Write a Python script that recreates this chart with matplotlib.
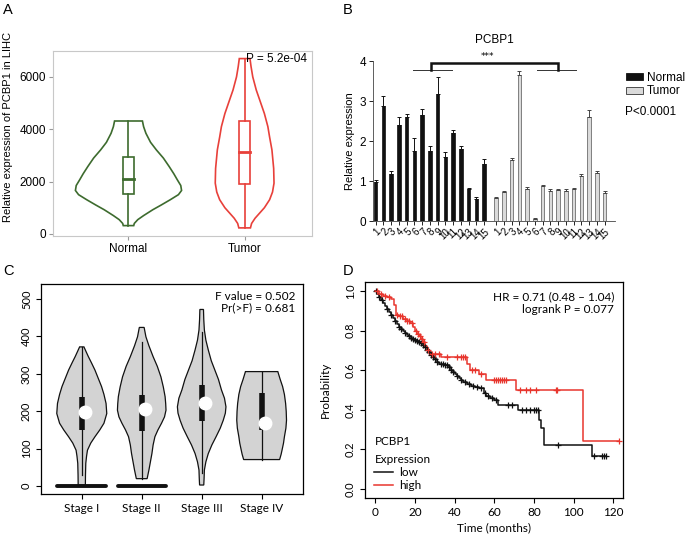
import numpy as np
import matplotlib
matplotlib.use("Agg")
import matplotlib.pyplot as plt
from matplotlib.patches import Patch
from matplotlib.lines import Line2D

# ---------------- data ----------------
# Panel A: violin profiles (value, half-width) and box stats
a_groups = ["Normal", "Tumor"]
a_norm_y = [317, 400, 545, 700, 926, 1100, 1307, 1500, 1660, 1850, 2070, 2300,
            2576, 2900, 3210, 3500, 3845, 4100, 4315]
a_norm_w = [0.045, 0.05, 0.08, 0.13, 0.21, 0.28, 0.36, 0.43, 0.457, 0.45, 0.42,
            0.39, 0.35, 0.30, 0.24, 0.19, 0.15, 0.13, 0.12]
a_tum_y = [230, 400, 600, 800, 1000, 1307, 1600, 1940, 2500, 3210, 3700, 4100,
           4600, 5115, 5500, 6000, 6400, 6700]
a_tum_w = [0.05, 0.06, 0.09, 0.13, 0.17, 0.215, 0.24, 0.253, 0.25, 0.235, 0.215,
           0.20, 0.17, 0.13, 0.10, 0.07, 0.055, 0.046]
a_box = {  # min, q1, median, q3, max
    "Normal": [317, 1523, 2107, 2957, 4315],
    "Tumor": [230, 1916, 3122, 4315, 6700],
}
a_pvalue = "P = 5.2e-04"

# Panel B: bar values
b_labels = [str(i) for i in range(1, 16)]
b_normal = [0.97, 2.87, 1.18, 2.40, 2.60, 1.75, 2.65, 1.75, 3.18, 1.60, 2.20, 1.80, 0.80, 0.55, 1.42]
b_normal_err = [0.05, 0.25, 0.06, 0.20, 0.08, 0.32, 0.14, 0.12, 0.42, 0.12, 0.08, 0.07, 0.03, 0.06, 0.14]
b_tumor = [0.57, 0.72, 1.52, 3.65, 0.80, 0.05, 0.88, 0.76, 0.77, 0.76, 0.80, 1.12, 2.60, 1.20, 0.70]
b_tumor_err = [0.04, 0.03, 0.06, 0.10, 0.04, 0.03, 0.03, 0.05, 0.04, 0.04, 0.03, 0.05, 0.17, 0.05, 0.04]

# Panel C: violin profiles per stage
c_stages = ["Stage I", "Stage II", "Stage III", "Stage IV"]
c_prof_y = [
    [3, 30, 61, 80, 96, 115, 132, 150, 168, 194, 221, 245, 266, 290, 310, 330,
     346, 360, 372],
    [20, 43, 65, 87, 110, 132, 150, 168, 185, 203, 220, 239, 265, 292, 320, 346,
     375, 399, 424],
    [3, 20, 43, 65, 87, 110, 132, 155, 176, 195, 212, 235, 257, 285, 310, 335,
     364, 390, 417, 445, 472],
    [71, 85, 96, 115, 132, 155, 176, 200, 221, 245, 266, 285, 306],
]
c_prof_w = [
    [0.06, 0.062, 0.067, 0.08, 0.095, 0.15, 0.22, 0.30, 0.37, 0.417, 0.405, 0.37,
     0.33, 0.27, 0.22, 0.16, 0.11, 0.07, 0.036],
    [0.09, 0.12, 0.145, 0.17, 0.19, 0.22, 0.27, 0.33, 0.38, 0.405, 0.40, 0.39,
     0.36, 0.32, 0.26, 0.19, 0.12, 0.07, 0.04],
    [0.035, 0.04, 0.045, 0.07, 0.11, 0.17, 0.24, 0.31, 0.36, 0.395, 0.405, 0.38,
     0.33, 0.28, 0.22, 0.16, 0.11, 0.07, 0.045, 0.035, 0.03],
    [0.30, 0.325, 0.34, 0.365, 0.38, 0.405, 0.415, 0.41, 0.40, 0.38, 0.35, 0.31,
     0.27],
]
c_whisk = [[29, 371], [18, 386], [34, 413], [71, 306]]
c_box = [[151, 239], [147, 243], [175, 270], [151, 250]]
c_center = [199, 205, 223, 168]
c_zero_bar = [0.41, 0.40, 0, 0]   # half-width of the zero-value bar
c_text = ["F value = 0.502", "Pr(>F) = 0.681"]

# Panel D: Kaplan-Meier steps
low_t = [0, 1, 2, 3, 4, 5, 6, 7, 8, 9, 10, 11, 12, 13, 14, 15, 16, 17, 18, 19, 20,
         21, 22, 23, 24, 25, 26, 27, 28, 29, 30, 31, 32, 35, 37, 38, 39, 40, 41, 42,
         43, 44, 46, 48, 50, 52, 55, 56, 58, 60, 62, 72, 82.5, 83.5, 85, 109, 116]
low_s = [1.0, 0.985, 0.97, 0.955, 0.94, 0.925, 0.91, 0.895, 0.88, 0.865, 0.85,
         0.835, 0.82, 0.81, 0.80, 0.79, 0.78, 0.77, 0.76, 0.755, 0.75,
         0.745, 0.74, 0.735, 0.725, 0.715, 0.70, 0.69, 0.675, 0.665, 0.655,
         0.64, 0.63, 0.625, 0.615, 0.60, 0.59, 0.58, 0.57, 0.56, 0.55, 0.54,
         0.53, 0.52, 0.515, 0.51, 0.485, 0.47, 0.46, 0.45, 0.425, 0.40,
         0.35, 0.31, 0.22, 0.165, 0.165]
high_t = [0, 2, 4, 6, 8, 9.5, 10.5, 12, 14, 16, 17.5, 19, 20, 21, 22, 23, 24, 25,
          26, 27, 28, 33, 46, 47.5, 52, 56, 71, 104.5, 123]
high_s = [1.0, 0.985, 0.975, 0.97, 0.96, 0.93, 0.88, 0.875, 0.86, 0.85, 0.84,
          0.82, 0.80, 0.785, 0.77, 0.755, 0.74, 0.72, 0.70, 0.69, 0.68, 0.665,
          0.63, 0.60, 0.58, 0.55, 0.50, 0.245, 0.245]
low_cens = [0.5, 2, 3.5, 6, 8, 10, 12, 13, 15, 17, 18, 19, 20, 21, 22, 23, 24, 25,
            26, 27, 28, 29, 30, 31, 33, 34, 35, 36, 37, 38, 39, 41, 43, 45, 47, 49,
            51, 53, 55.5, 57, 59, 61, 67, 69, 74, 76, 78, 80, 81, 82, 92, 110, 114,
            115, 116]
high_cens = [1, 3, 5, 7, 11, 12.5, 13.5, 15, 16, 17, 18.5, 20.5, 21.5, 22.5, 23.5,
             24.5, 26.5, 28.5, 30, 32, 36, 41, 43, 44, 45, 48.5, 50, 53, 60, 61, 62,
             63, 64, 65, 66, 73, 76, 78, 81, 91, 91.5, 123]
d_text = ["HR = 0.71 (0.48 \u2013 1.04)", "logrank P = 0.077"]

# ---------------- figure ----------------
W, H = 685, 536
fig = plt.figure(figsize=(W / 100, H / 100), dpi=100)
ARIAL = ["Liberation Sans", "DejaVu Sans"]
MYR = ["Lato", "DejaVu Sans"]


def axpos(x0, y0, x1, y1):
    return [x0 / W, 1 - y1 / H, (x1 - x0) / W, (y1 - y0) / H]


# panel letters
for lab, (x, y) in zip("ABCD", [(3, 14), (343, 14), (3, 275), (343, 275)]):
    fig.text(x / W, 1 - y / H, lab, fontsize=10.5, family=ARIAL, va="baseline")

# ---------- A ----------
axA = fig.add_axes(axpos(53, 51, 312, 236))
green = "#3d6b2e"
red = "#e8403a"
for i, (g, ys, ws, col) in enumerate(zip(a_groups, [a_norm_y, a_tum_y],
                                         [a_norm_w, a_tum_w], [green, red])):
    pos = i + 1
    ys = np.array(ys)
    ws = np.array(ws)
    xs = np.concatenate([pos - ws, (pos + ws)[::-1]])
    yy = np.concatenate([ys, ys[::-1]])
    axA.fill(xs, yy, facecolor="none", edgecolor=col, lw=1.2)
    mn, q1, md, q3, mx = a_box[g]
    bw = 0.05
    axA.plot([pos, pos], [mn, q1], color=col, lw=1.2)
    axA.plot([pos, pos], [q3, mx], color=col, lw=1.2)
    axA.fill([pos - bw, pos + bw, pos + bw, pos - bw], [q1, q1, q3, q3],
             facecolor="white", edgecolor=col, lw=1.2)
    axA.plot([pos - bw, pos + bw], [md, md], color=col, lw=2)
axA.set_xlim(0.35, 2.58)
axA.set_ylim(-80, 6990)
axA.set_xticks([1, 2])
axA.set_xticklabels(a_groups, family=ARIAL, fontsize=8.5)
axA.set_yticks([0, 2000, 4000, 6000])
axA.set_yticklabels(["0", "2000", "4000", "6000"], family=ARIAL, fontsize=8.5)
for s in axA.spines.values():
    s.set_color("#c8c8c8")
axA.tick_params(color="#999999", length=3, pad=2)
axA.text(2.535, 6690, a_pvalue, ha="right", va="center", fontsize=8.5, family=ARIAL)
fig.text(8 / W, 1 - 127 / H, "Relative expression of PCBP1 in LIHC", rotation=90,
         ha="center", va="center", fontsize=8, family=ARIAL)

# ---------- B ----------
axB = fig.add_axes(axpos(373, 61, 615, 221))
xn = np.arange(15)
xt = np.arange(15) + 15.55
bw = 0.45
axB.bar(xn, b_normal, width=bw, color="#111111", edgecolor="#111111", lw=0.5)
axB.errorbar(xn, b_normal, yerr=[np.zeros(15), b_normal_err], fmt="none",
             ecolor="#111111", elinewidth=0.7, capsize=1.2, capthick=0.7)
axB.bar(xt, b_tumor, width=bw, color="#dadada", edgecolor="#555555", lw=0.5)
axB.errorbar(xt, b_tumor, yerr=[np.zeros(15), b_tumor_err], fmt="none",
             ecolor="#444444", elinewidth=0.7, capsize=1.2, capthick=0.7)
axB.set_xlim(-0.35, 30.9)
axB.set_ylim(0, 4)
axB.set_yticks([0, 1, 2, 3, 4])
axB.set_yticklabels(["0", "1", "2", "3", "4"], family=ARIAL, fontsize=8.5)
axB.set_xticks(np.concatenate([xn, xt]))
axB.set_xticklabels(b_labels + b_labels, rotation=45, ha="right",
                    rotation_mode="anchor", fontsize=7, family=ARIAL)
axB.tick_params(axis="x", length=3, width=0.6, pad=1)
axB.tick_params(axis="y", length=3, width=0.6, pad=2)
for s in ["top", "right"]:
    axB.spines[s].set_visible(False)
for s in ["left", "bottom"]:
    axB.spines[s].set_linewidth(0.6)
    axB.spines[s].set_color("#444444")
axB.set_title("PCBP1", fontsize=8.5, family=ARIAL, pad=13)
axB.set_ylabel("Relative expression", fontsize=8, family=ARIAL, labelpad=3)
# significance bracket
axB.plot([4.8, 9.9], [3.78, 3.78], color="#333333", lw=0.7, clip_on=False)
axB.plot([20.8, 25.8], [3.78, 3.78], color="#333333", lw=0.7, clip_on=False)
axB.plot([7.2, 7.2, 23.6, 23.6], [3.78, 3.95, 3.95, 3.78], color="#111111",
         lw=1.8, clip_on=False, solid_joinstyle="miter")
axB.text(14.4, 4.12, "***", ha="center", va="center", fontsize=6.5, clip_on=False)
hand = [Patch(facecolor="#111111", edgecolor="#111111", lw=0.6, label="Normal"),
        Patch(facecolor="#dadada", edgecolor="#333333", lw=0.6, label="Tumor")]
axB.legend(handles=hand, loc="upper left", bbox_to_anchor=(1.02, 0.97),
           frameon=False, handlelength=1.5, handleheight=0.5,
           handletextpad=0.3, labelspacing=0.15, borderpad=0,
           prop={"family": ARIAL, "size": 8.5})
fig.text(625 / W, 1 - 112 / H, "P<0.0001", fontsize=8.5, family=ARIAL, va="center")

# ---------- C ----------
axC = fig.add_axes(axpos(41, 284, 303, 494))
for i in range(4):
    pos = i + 1
    ys = np.array(c_prof_y[i])
    ws = np.array(c_prof_w[i])
    xs = np.concatenate([pos - ws, (pos + ws)[::-1]])
    yy = np.concatenate([ys, ys[::-1]])
    axC.fill(xs, yy, facecolor="#d3d3d3", edgecolor="#111111", lw=0.9, zorder=2)
    axC.plot([pos, pos], c_whisk[i], color="#111111", lw=0.9, zorder=3)
    axC.plot([pos, pos], c_box[i], color="#111111", lw=4, solid_capstyle="butt",
             zorder=3)
    axC.plot([pos + 0.06], [c_center[i]], "o", ms=9, color="white", zorder=4)
    if c_zero_bar[i] > 0:
        hw = c_zero_bar[i]
        axC.plot([pos - hw, pos + hw], [0, 0], color="#111111", lw=2.8,
                 solid_capstyle="round", zorder=5)
axC.set_xlim(0.32, 4.69)
axC.set_ylim(-21, 540)
axC.set_xticks([1, 2, 3, 4])
axC.set_xticklabels(c_stages, fontsize=8.5, family=MYR)
axC.set_yticks([0, 100, 200, 300, 400, 500])
axC.set_yticklabels(["0", "100", "200", "300", "400", "500"], rotation=90,
                    va="center", fontsize=8, family=MYR)
axC.tick_params(length=3.5, width=0.8, pad=3)
for s in axC.spines.values():
    s.set_linewidth(0.9)
axC.text(0.97, 0.965, c_text[0] + "\n" + c_text[1], transform=axC.transAxes,
         ha="right", va="top", fontsize=8.5, family=MYR, linespacing=1.0,
         multialignment="right")

# ---------- D ----------
axD = fig.add_axes(axpos(365, 282, 623, 498))
kred = "#e8352d"
axD.step(low_t, low_s, where="post", color="#111111", lw=1.1)
axD.step(high_t, high_s, where="post", color=kred, lw=1.1)
lt = np.array(low_t)
ls = np.array(low_s)
ht = np.array(high_t)
hs = np.array(high_s)
lc = np.array(low_cens)
hc = np.array(high_cens)
axD.plot(lc, ls[np.searchsorted(lt, lc, side="right") - 1], "+", color="#111111",
         ms=5, mew=0.9)
axD.plot(hc, hs[np.searchsorted(ht, hc, side="right") - 1], "+", color=kred,
         ms=5, mew=0.9)
axD.set_xlim(-5.2, 124.8)
axD.set_ylim(-0.045, 1.045)
axD.set_xticks([0, 20, 40, 60, 80, 100, 120])
axD.set_xticklabels(["0", "20", "40", "60", "80", "100", "120"], fontsize=8.5,
                    family=MYR)
axD.set_yticks([0, 0.2, 0.4, 0.6, 0.8, 1.0])
axD.set_yticklabels(["0.0", "0.2", "0.4", "0.6", "0.8", "1.0"], rotation=90,
                    va="center", fontsize=8, family=MYR)
axD.tick_params(length=3.5, width=0.8, pad=3)
for s in axD.spines.values():
    s.set_linewidth(0.9)
axD.set_xlabel("Time (months)", fontsize=8.5, family=MYR, labelpad=3)
axD.set_ylabel("Probability", fontsize=8.5, family=MYR, labelpad=10)
axD.text(0.965, 0.955, d_text[0] + "\n" + d_text[1], transform=axD.transAxes,
         ha="right", va="top", fontsize=8.5, family=MYR, linespacing=1.15,
         multialignment="right")
lh = [Line2D([], [], color="#111111", lw=1.1, label="low"),
      Line2D([], [], color=kred, lw=1.1, label="high")]
axD.legend(handles=lh, title="PCBP1\nExpression", loc="lower left",
           bbox_to_anchor=(0.0, -0.01), frameon=False, handlelength=1.6,
           handletextpad=0.5, labelspacing=0.15, borderpad=0.3,
           prop={"family": MYR, "size": 8.5},
           title_fontproperties={"family": MYR, "size": 8.5})
leg = axD.get_legend()
leg._legend_box.align = "left"
leg.get_title().set_linespacing(1.75)

fig.savefig("out.png", dpi=100)
